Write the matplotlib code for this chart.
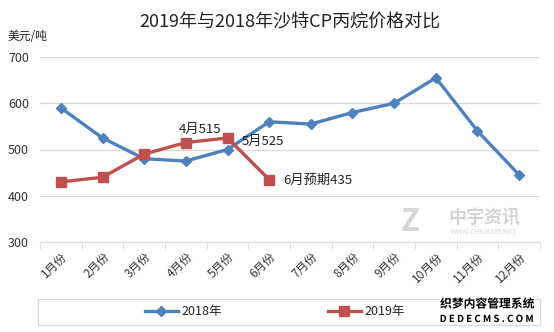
import matplotlib
matplotlib.use("Agg")
import matplotlib.pyplot as plt
import matplotlib.patheffects as pe
from matplotlib.patches import Rectangle

plt.rcParams['font.family'] = ['Noto Sans CJK SC', 'DejaVu Sans']

# 沙特CP丙烷价格（美元/吨）
months = ['1月份', '2月份', '3月份', '4月份', '5月份', '6月份',
          '7月份', '8月份', '9月份', '10月份', '11月份', '12月份']
cp_2018 = [590, 525, 480, 475, 500, 560, 555, 580, 600, 655, 540, 445]
cp_2019 = [430, 440, 490, 515, 525, 435]
notes_2019 = {3: '4月515', 4: '5月525', 5: '6月预期435'}

blue = '#4F81BD'
red = '#C0504D'
grid = '#D9D9D9'

fig = plt.figure(figsize=(5.54, 3.32), dpi=100)
ax = fig.add_axes([40 / 554, 1 - 242 / 332, 500 / 554, 185 / 332])

x18 = list(range(len(cp_2018)))
x19 = list(range(len(cp_2019)))
ax.plot(x18, cp_2018, color=blue, lw=2.4, marker='D', ms=5, label='2018年', zorder=3)
ax.plot(x19, cp_2019, color=red, lw=2.4, marker='s', ms=7, label='2019年', zorder=4)

# 数据标注
offsets = {3: (14, 13, 'center'), 4: (14, -4, 'left'), 5: (14, -1, 'left')}
for i, txt in notes_2019.items():
    dx, dy, ha = offsets[i]
    ax.annotate(txt, (i, cp_2019[i]), xytext=(dx, dy), textcoords='offset pixels',
                ha=ha, va='center', fontsize=9.5, color='#222222', zorder=5)

ax.set_xlim(-0.5, 11.5)
ax.set_ylim(300, 700)
ax.set_yticks([300, 400, 500, 600, 700])
ax.set_xticks(x18)
ax.set_xticklabels(months, rotation=45, ha='right', rotation_mode='anchor',
                   fontsize=8.5, color='#333333')
ax.set_xticks([i - 0.5 for i in range(13)], minor=True)
ax.tick_params(axis='x', which='major', length=0, pad=6)
ax.tick_params(axis='x', which='minor', length=5, color=grid)
ax.tick_params(axis='y', length=0, labelsize=9, labelcolor='#333333', pad=8)
ax.grid(axis='y', color=grid, lw=0.9)
ax.set_axisbelow(True)
for s in ['top', 'right', 'left']:
    ax.spines[s].set_visible(False)
ax.spines['bottom'].set_color(grid)

fig.text(290 / 554, 1 - 22 / 332, '2019年与2018年沙特CP丙烷价格对比',
         ha='center', va='center', fontsize=13, color='#222222')
fig.text(8 / 554, 1 - 37 / 332, '美元/吨', ha='left', va='center', fontsize=8.5, color='#222222')

# 图例及边框
fig.patches.append(Rectangle((38 / 554, 1 - 325 / 332), 502 / 554, 26 / 332,
                             transform=fig.transFigure, fill=False,
                             edgecolor=grid, lw=0.9))
leg = fig.legend(loc='center', bbox_to_anchor=(275 / 554, 1 - 312 / 332), ncol=2,
                 frameon=False, fontsize=9, columnspacing=8.5, handlelength=2.6,
                 handletextpad=0.3)
for t in leg.get_texts():
    t.set_color('#222222')

# 水印
fig.text(410 / 554, 1 - 222 / 332, 'Z', ha='center', va='center', fontsize=22,
         fontweight='bold', color='#D5D5D5', style='italic')
fig.text(484 / 554, 1 - 218 / 332, '中宇资讯', ha='center', va='center', fontsize=13,
         fontweight='bold', color='#D5D5D5')
fig.text(484 / 554, 1 - 232 / 332, 'WWW.CHEM365.NET', ha='center', va='center',
         fontsize=5, color='#D5D5D5')
halo = [pe.withStroke(linewidth=2, foreground='white')]
fig.text(487 / 554, 1 - 304 / 332, '织梦内容管理系统', ha='center', va='center',
         fontsize=8.5, fontweight='bold', color='black', path_effects=halo)
fig.text(487 / 554, 1 - 319 / 332, 'D E D E C M S . C O M', ha='center', va='center',
         fontsize=7, fontweight='bold', color='black', path_effects=halo)

fig.savefig('out.png', dpi=100)
